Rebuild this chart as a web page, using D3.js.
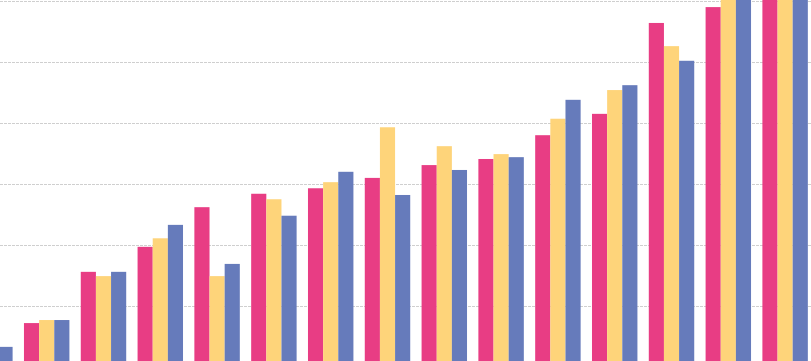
<!DOCTYPE html>
<html>
<head>
<meta charset="utf-8">
<script src="https://cdn.jsdelivr.net/npm/d3@7"></script>
<style>
  body { margin: 0; background: #fff; overflow: hidden; }
</style>
</head>
<body>
<script>
// values, one unit step per gridline = 10
var categories = ["g0","g1","g2","g3","g4","g5","g6","g7","g8","g9","g10","g11","g12","g13","g14"];
var seriesA = [2.8, 7.2, 15.6, 19.7, 26.2, 28.4, 29.3, 31.0, 33.1, 34.1, 38.0, 41.5, 56.4, 59.0, 64];
var seriesB = [3.1, 7.7, 14.9, 21.1, 14.9, 27.5, 30.3, 39.3, 36.2, 34.9, 40.7, 45.4, 52.6, 61.5, 65];
var seriesC = [3.3, 7.7, 15.6, 23.3, 16.9, 24.8, 32.0, 28.2, 32.3, 34.4, 43.8, 46.2, 50.2, 62, 66];
var seriesNames = ["A", "B", "C"];
var gridTicks = [10, 20, 30, 40, 50, 60];

var colors = ["#e83d84", "#fed47a", "#667bbb"];
var w = 811;
var h = 361;

var svg = d3.select("body").append("svg")
    .attr("width", w)
    .attr("height", h);

// chart is cropped: the baseline and first group sit outside the window
var x = d3.scaleBand()
    .domain(categories)
    .range([-44.2, 819.2])
    .paddingInner(0.2)
    .paddingOuter(0.2);

var xInner = d3.scaleBand()
    .domain(seriesNames)
    .range([0, x.bandwidth()]);

var y = d3.scaleLinear()
    .domain([0, 60])
    .range([367, 1]);

// gridlines
svg.append("g")
    .attr("class", "grid")
    .call(d3.axisLeft(y).tickValues(gridTicks).tickSize(-w - 20).tickFormat(""))
    .call(function(g) {
        g.select(".domain").remove();
        g.selectAll("line")
            .attr("stroke", "#cfcfcf")
            .attr("stroke-dasharray", "3,1");
    });

var table = categories.map(function(c, i) {
    return { cat: c, vals: [seriesA[i], seriesB[i], seriesC[i]] };
});

var groups = svg.selectAll("g.group")
    .data(table)
    .enter()
    .append("g")
    .attr("class", "group")
    .attr("transform", function(d) { return "translate(" + x(d.cat) + ",0)"; });

groups.selectAll("rect")
    .data(function(d) {
        return d.vals.map(function(v, j) { return { name: seriesNames[j], v: v, j: j }; });
    })
    .enter()
    .append("rect")
    .attr("x", function(d) { return xInner(d.name); })
    .attr("y", function(d) { return y(d.v); })
    .attr("width", xInner.bandwidth())
    .attr("height", function(d) { return y(0) - y(d.v); })
    .attr("fill", function(d) { return colors[d.j]; });
</script>
</body>
</html>
